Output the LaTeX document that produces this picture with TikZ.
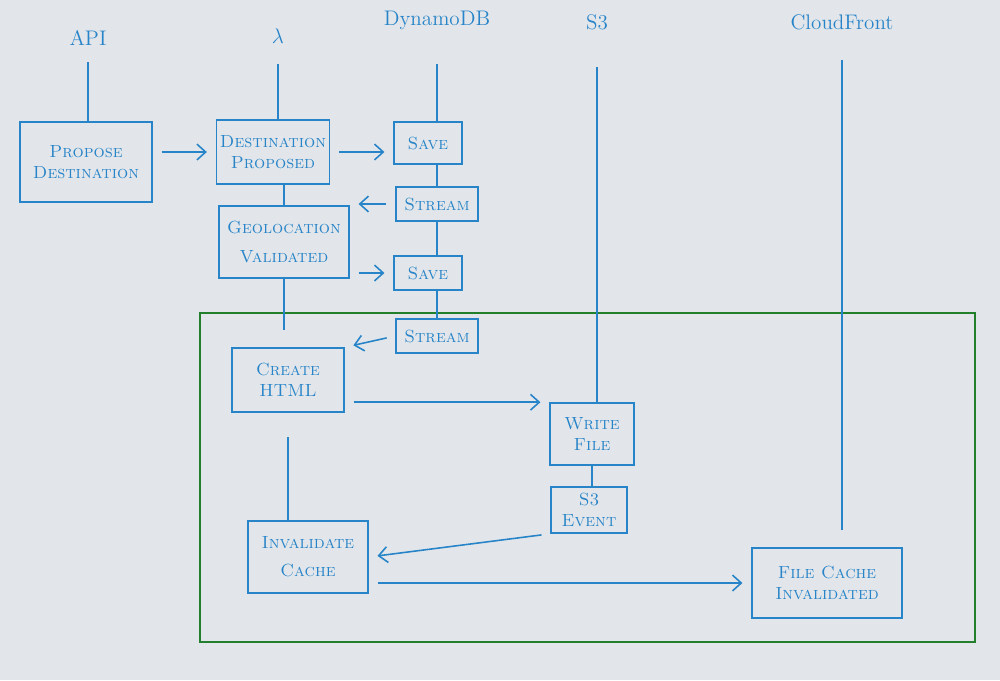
\documentclass[tikz,border=0pt]{standalone}
\usetikzlibrary{arrows.meta}
\definecolor{pen}{RGB}{40,132,200}
\definecolor{frame}{RGB}{34,128,44}
\definecolor{board}{RGB}{226,230,234}
\begin{document}
\begin{tikzpicture}[
                            x=0.02cm, y=-0.02cm,
                            >={Straight Barb[length=5pt,width=9pt]},
                            block/.style={rectangle, draw=pen, line width=0.9pt, text=pen, align=center, font=\scshape, inner sep=2pt},
                            head/.style={text=pen, font=\large},
                            flow/.style={->, draw=pen, line width=0.9pt, shorten <=5pt, shorten >=5pt},
                            life/.style={draw=pen, line width=0.9pt}
                        ]
                        \fill[board] (0,0) rectangle (1000,680);

                        % Lanes
                        \node [head] (api) at (88,38) {API};
                        \node [head] (lambda) at (278,36) {$\lambda$};
                        \node [head] (dynamo) at (437,20) {DynamoDB};
                        \node [head] (s3) at (597,22) {S3};
                        \node [head] (cloudfront) at (842,22) {CloudFront};

                        % Blocks
                        \node [block,minimum width=2.64cm,minimum height=1.6cm] (propose) at (86,162) {Propose\\Destination};
                        \node [block,minimum width=2.2cm,minimum height=1.28cm] (proposed) at (273,152) {Destination\\Proposed};
                        \node [block,minimum width=1.36cm,minimum height=0.84cm] (save1) at (428,143) {Save};
                        \node [block,minimum width=1.64cm,minimum height=0.68cm] (stream1) at (437,204) {Stream};
                        \node [block,minimum width=2.6cm,minimum height=1.44cm] (validated) at (284,242) {Geolocation\\[4pt]Validated};
                        \node [block,minimum width=1.36cm,minimum height=0.68cm] (save2) at (428,273) {Save};
                        \node [block,minimum width=1.64cm,minimum height=0.68cm] (stream2) at (437,336) {Stream};
                        \node [block,minimum width=2.24cm,minimum height=1.28cm] (html) at (288,380) {Create\\HTML};
                        \node [block,minimum width=1.68cm,minimum height=1.24cm] (write) at (592,434) {Write\\File};
                        \node [block,minimum width=1.52cm,minimum height=0.92cm] (s3event) at (589,510) {S3\\Event};
                        \node [block,minimum width=2.4cm,minimum height=1.44cm] (invalidate) at (308,557) {Invalidate\\[4pt]Cache};
                        \node [block,minimum width=3cm,minimum height=1.4cm] (invalidated) at (827,583) {File Cache\\Invalidated};

                        % Frame
                        \draw [frame, line width=1.6pt] (200,313) rectangle (975,642);

                        % Lifelines
                        \draw [life, shorten <=6pt] (api.south) -- (api.south |- propose.north);
                        \draw [life, shorten <=8pt] (lambda.south) -- (lambda.south |- proposed.north);
                        \draw [life] (validated.north |- proposed.south) -- (validated.north);
                        \draw [life, shorten >=10pt] (validated.south) -- (validated.south |- html.north);
                        \draw [life, shorten <=14pt] (html.south) -- (html.south |- invalidate.north);
                        \draw [life, shorten <=16pt] (dynamo.south) -- (dynamo.south |- save1.north);
                        \draw [life] (save1.south -| dynamo) -- (stream1.north -| dynamo);
                        \draw [life] (stream1.south -| dynamo) -- (save2.north -| dynamo);
                        \draw [life] (save2.south -| dynamo) -- (stream2.north -| dynamo);
                        \draw [life, shorten <=18pt] (s3.south) -- (s3.south |- write.north);
                        \draw [life] (write.south) -- (write.south |- s3event.north);
                        \draw [life, shorten <=14pt, shorten >=10pt] (cloudfront.south) -- (cloudfront.south |- invalidated.north);

                        % Connections
                        \draw [flow] (proposed.west -| propose.east) -- (proposed.west);
                        \draw [flow] (proposed.east) -- (proposed.east -| save1.west);
                        \draw [flow] (stream1.west) -- (stream1.west -| validated.east);
                        \draw [flow] (save2.west -| validated.east) -- (save2.west);
                        \draw [flow] (stream2.west) -- (html.north east);
                        \draw [flow] (html.east |- write.north west) -- (write.north west);
                        \draw [flow] (s3event.south west) -- (invalidate.east);
                        \draw [flow] (invalidated.west -| invalidate.east) -- (invalidated.west);
                    \end{tikzpicture}
\end{document}
